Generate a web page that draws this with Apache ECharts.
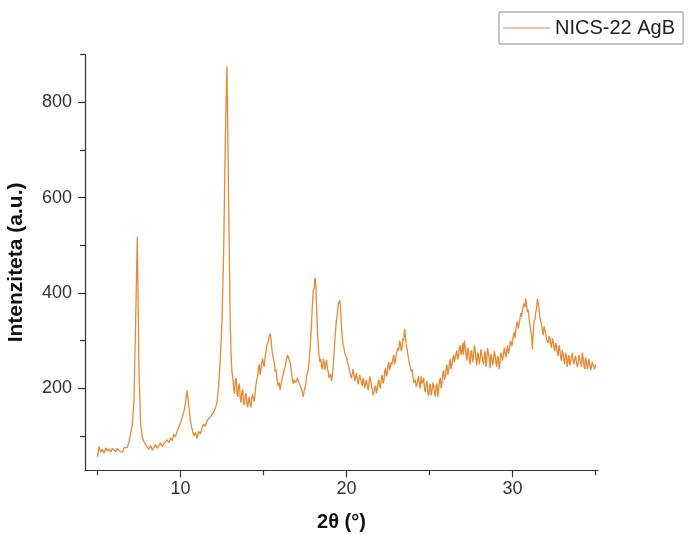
<!DOCTYPE html>
<html><head><meta charset="utf-8">
<script src="https://cdn.jsdelivr.net/npm/echarts@6/dist/echarts.min.js"></script>
<style>html,body{margin:0;padding:0;background:#fff}#c{width:689px;height:535px}</style>
</head><body><div id="c"></div>
<script>
const seriesName = 'NICS-22 AgB';
// main scan points (0.1° apart)
const twoTheta = [
5.0,5.1,5.2,5.3,5.4,5.5,5.6,5.7,5.8,5.9,
6.0,6.1,6.2,6.3,6.4,6.5,6.6,6.7,6.8,6.9,
7.0,7.1,7.2,7.3,7.4,7.5,7.6,7.7,7.8,7.9,
8.0,8.1,8.2,8.3,8.4,8.5,8.6,8.7,8.8,8.9,
9.0,9.1,9.2,9.3,9.4,9.5,9.6,9.7,9.8,9.9,
10.0,10.1,10.2,10.3,10.4,10.5,10.6,10.7,10.8,10.9,
11.0,11.1,11.2,11.3,11.4,11.5,11.6,11.7,11.8,11.9,
12.0,12.1,12.2,12.3,12.4,12.5,12.6,12.7,12.8,12.9,
13.0,13.1,13.2,13.3,13.4,13.5,13.6,13.7,13.8,13.9,
14.0,14.1,14.2,14.3,14.4,14.5,14.6,14.7,14.8,14.9,
15.0,15.1,15.2,15.3,15.4,15.5,15.6,15.7,15.8,15.9,
16.0,16.1,16.2,16.3,16.4,16.5,16.6,16.7,16.8,16.9,
17.0,17.1,17.2,17.3,17.4,17.5,17.6,17.7,17.8,17.9,
18.0,18.1,18.2,18.3,18.4,18.5,18.6,18.7,18.8,18.9,
19.0,19.1,19.2,19.3,19.4,19.5,19.6,19.7,19.8,19.9,
20.0,20.1,20.2,20.3,20.4,20.5,20.6,20.7,20.8,20.9,
21.0,21.1,21.2,21.3,21.4,21.5,21.6,21.7,21.8,21.9,
22.0,22.1,22.2,22.3,22.4,22.5,22.6,22.7,22.8,22.9,
23.0,23.1,23.2,23.3,23.4,23.5,23.6,23.7,23.8,23.9,
24.0,24.1,24.2,24.3,24.4,24.5,24.6,24.7,24.8,24.9,
25.0,25.1,25.2,25.3,25.4,25.5,25.6,25.7,25.8,25.9,
26.0,26.1,26.2,26.3,26.4,26.5,26.6,26.7,26.8,26.9,
27.0,27.1,27.2,27.3,27.4,27.5,27.6,27.7,27.8,27.9,
28.0,28.1,28.2,28.3,28.4,28.5,28.6,28.7,28.8,28.9,
29.0,29.1,29.2,29.3,29.4,29.5,29.6,29.7,29.8,29.9,
30.0,30.1,30.2,30.3,30.4,30.5,30.6,30.7,30.8,30.9,
31.0,31.1,31.2,31.3,31.4,31.5,31.6,31.7,31.8,31.9,
32.0,32.1,32.2,32.3,32.4,32.5,32.6,32.7,32.8,32.9,
33.0,33.1,33.2,33.3,33.4,33.5,33.6,33.7,33.8,33.9,
34.0,34.1,34.2,34.3,34.4,34.5,34.6,34.7,34.8,34.9,
35.0
];
const intensity = [
56,78,66,72,64,75,68,73,66,74,
70,67,74,69,72,66,75,71,76,88,
105,125,175,340,518,240,125,98,88,82,
78,72,80,70,76,82,74,80,86,78,
84,80,92,86,96,90,104,98,110,112,
128,138,150,168,196,165,130,115,100,108,
95,110,104,118,125,120,132,128,140,138,
150,158,170,205,260,340,480,720,875,600,
330,235,200,215,190,205,178,192,170,185,
168,175,165,180,178,192,218,245,228,255,
250,268,290,300,315,285,262,235,225,205,
196,215,230,245,262,273,255,230,210,222,
215,225,212,198,182,200,225,240,280,340,
405,432,370,290,255,245,262,238,260,235,
225,215,250,300,345,375,385,330,290,272,
266,250,235,221,240,215,232,208,228,212,
222,200,218,196,225,205,185,200,190,212,
205,222,210,235,225,248,238,255,262,250,
272,285,300,278,305,325,290,270,250,235,
225,210,203,220,205,225,215,198,210,190,
205,185,212,190,205,182,215,200,230,218,
240,228,252,240,262,255,273,260,285,270,
295,300,270,285,262,280,255,290,262,275,
250,282,258,270,245,285,260,272,248,278,
255,268,240,275,258,285,265,290,280,300,
295,318,322,340,335,358,365,378,388,360,
345,320,282,340,360,388,365,340,320,330,
315,300,310,292,305,285,295,275,290,265,
280,258,275,245,270,255,275,250,268,245,
270,255,275,248,265,240,262,238,255,245,
250
];
// in-between points of the noisy part (13–35°)
const twoThetaFine = [
13.05,13.15,13.25,13.35,13.45,13.55,13.65,13.75,13.85,13.95,
14.05,14.15,14.25,14.35,14.45,14.55,14.65,14.75,14.85,14.95,
15.05,15.15,15.25,15.35,15.45,15.55,15.65,15.75,15.85,15.95,
16.05,16.15,16.25,16.35,16.45,16.55,16.65,16.75,16.85,16.95,
17.05,17.15,17.25,17.35,17.45,17.55,17.65,17.75,17.85,17.95,
18.05,18.15,18.25,18.35,18.45,18.55,18.65,18.75,18.85,18.95,
19.05,19.15,19.25,19.35,19.45,19.55,19.65,19.75,19.85,19.95,
20.05,20.15,20.25,20.35,20.45,20.55,20.65,20.75,20.85,20.95,
21.05,21.15,21.25,21.35,21.45,21.55,21.65,21.75,21.85,21.95,
22.05,22.15,22.25,22.35,22.45,22.55,22.65,22.75,22.85,22.95,
23.05,23.15,23.25,23.35,23.45,23.55,23.65,23.75,23.85,23.95,
24.05,24.15,24.25,24.35,24.45,24.55,24.65,24.75,24.85,24.95,
25.05,25.15,25.25,25.35,25.45,25.55,25.65,25.75,25.85,25.95,
26.05,26.15,26.25,26.35,26.45,26.55,26.65,26.75,26.85,26.95,
27.05,27.15,27.25,27.35,27.45,27.55,27.65,27.75,27.85,27.95,
28.05,28.15,28.25,28.35,28.45,28.55,28.65,28.75,28.85,28.95,
29.05,29.15,29.25,29.35,29.45,29.55,29.65,29.75,29.85,29.95,
30.05,30.15,30.25,30.35,30.45,30.55,30.65,30.75,30.85,30.95,
31.05,31.15,31.25,31.35,31.45,31.55,31.65,31.75,31.85,31.95,
32.05,32.15,32.25,32.35,32.45,32.55,32.65,32.75,32.85,32.95,
33.05,33.15,33.25,33.35,33.45,33.55,33.65,33.75,33.85,33.95,
34.05,34.15,34.25,34.35,34.45,34.55,34.65,34.75,34.85,34.95
];
const intensityFine = [
270,225,188,222,182,210,170,198,165,190,
160,182,160,188,172,208,225,250,232,262,
245,275,288,310,305,270,255,240,210,212,
200,225,240,248,270,260,245,215,218,212,
222,210,208,190,195,208,228,255,305,378,
410,420,322,268,262,240,255,250,242,222,
230,225,272,325,355,372,362,305,285,275,
255,248,238,225,236,218,228,212,230,205,
215,210,222,205,218,198,192,206,196,218,
200,228,215,242,230,255,242,250,270,258,
268,280,295,285,300,310,282,262,245,240,
212,218,208,226,200,210,222,192,215,184,
210,195,205,183,210,196,222,210,238,225,
250,235,262,248,270,258,280,268,290,275,
270,288,258,280,250,275,265,282,248,270,
262,270,250,278,260,272,242,265,255,270,
245,262,255,268,270,275,280,272,295,288,
310,305,335,325,345,350,372,370,375,365,
335,310,318,345,368,380,350,335,312,322,
302,295,305,285,298,278,290,268,282,258,
272,250,268,260,248,265,258,262,255,250,
262,245,265,240,258,248,252,244,258,240
];
const xMajorTicks = [10, 20, 30];
const xMinorTicks = [5, 15, 25, 35];
const yMajorTicks = [200, 400, 600, 800];
const yMinorTicks = [100, 300, 500, 700, 900];

const X_MIN = 4.25, X_MAX = 35.15, Y_MIN = 28, Y_MAX = 900;
const FONT = '"Liberation Sans", Arial, sans-serif';
const AX = {color: '#333333', width: 1.2};
const LINE_COLOR = '#E38B35';
const chart = echarts.init(document.getElementById('c'), null, {renderer: 'canvas'});
const data = twoTheta.map((x, i) => [x, intensity[i]])
  .concat(twoThetaFine.map((x, i) => [x, intensityFine[i]]))
  .sort((a, b) => a[0] - b[0]);

const option = {
  animation: false,
  backgroundColor: '#ffffff',
  grid: {left: 85, top: 54.6, width: 513, height: 415.7, containLabel: false, outerBoundsMode: 'none'},
  legend: {
    show: true, left: 499, top: 12,
    padding: [6, 8, 6, 4], itemWidth: 47, itemHeight: 1.6,
    icon: 'rect',
    borderColor: '#8a8a8a', borderWidth: 1,
    textStyle: {fontFamily: FONT, fontSize: 20, color: '#222222'},
    itemStyle: {color: '#EBAE76'},
    data: [seriesName]
  },
  xAxis: [{
    type: 'value', min: X_MIN, max: X_MAX, position: 'bottom', offset: 0,
    name: '2θ (°)', nameLocation: 'middle', nameGap: 42,
    nameTextStyle: {fontFamily: FONT, fontSize: 20, fontWeight: 'bold', color: '#111111'},
    axisLine: {show: true, onZero: false, lineStyle: AX},
    axisTick: {show: true, customValues: xMajorTicks, length: 7, lineStyle: AX},
    axisLabel: {show: true, customValues: xMajorTicks, margin: 10, fontFamily: FONT, fontSize: 18, color: '#333333'},
    splitLine: {show: false}
  }, {
    type: 'value', min: X_MIN, max: X_MAX, position: 'bottom', offset: 0,
    axisLine: {show: false},
    axisTick: {show: true, customValues: xMinorTicks, length: 5, lineStyle: AX},
    axisLabel: {show: false},
    splitLine: {show: false}
  }],
  yAxis: [{
    type: 'value', min: Y_MIN, max: Y_MAX, position: 'left', offset: 0,
    name: 'Intenziteta (a.u.)', nameLocation: 'middle', nameGap: 58, nameRotate: 90,
    nameTextStyle: {fontFamily: FONT, fontSize: 21, fontWeight: 'bold', color: '#111111'},
    axisLine: {show: true, onZero: false, lineStyle: AX},
    axisTick: {show: true, customValues: yMajorTicks, length: 7, lineStyle: AX},
    axisLabel: {show: true, customValues: yMajorTicks, margin: 13, fontFamily: FONT, fontSize: 18, color: '#333333'},
    splitLine: {show: false}
  }, {
    type: 'value', min: Y_MIN, max: Y_MAX, position: 'left', offset: 0,
    axisLine: {show: false},
    axisTick: {show: true, customValues: yMinorTicks, length: 5, lineStyle: AX},
    axisLabel: {show: false},
    splitLine: {show: false}
  }],
  series: [{
    name: seriesName, type: 'line', xAxisIndex: 0, yAxisIndex: 0,
    data: data, symbol: 'none', showSymbol: false,
    lineStyle: {color: LINE_COLOR, width: 1.3},
    itemStyle: {color: LINE_COLOR}
  }]
};
chart.setOption(option);
</script>
</body></html>
